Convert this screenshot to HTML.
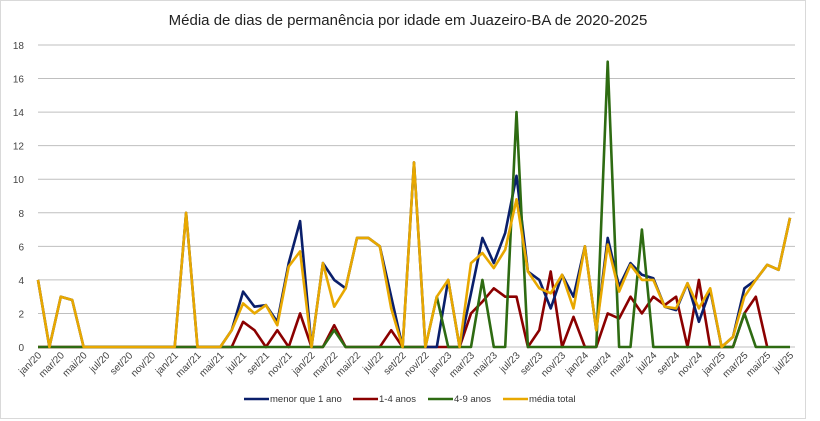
<!DOCTYPE html>
<html><head><meta charset="utf-8"><style>
body{margin:0;background:#fff;}
svg{display:block;font-family:"Liberation Sans",sans-serif;}
</style></head><body>
<svg id="c" width="820" height="421" xmlns="http://www.w3.org/2000/svg"></svg>
<script>
const s=document.getElementById('c');
const X=i=>38+i*11.394, Y=v=>347-v*16.78;
let h='<rect x="0.5" y="0.5" width="805" height="418" fill="#fff" stroke="#d9d9d9"/>';
h+='<text x="408" y="25" text-anchor="middle" font-size="15" fill="#222">Média de dias de permanência por idade em Juazeiro-BA de 2020-2025</text>';
for(let v=0;v<=18;v+=2){h+=`<line x1="38" x2="795" y1="${Y(v)}" y2="${Y(v)}" stroke="#bfbfbf" stroke-width="1"/>`;
h+=`<text x="24" y="${Y(v)+4}" text-anchor="end" font-size="10" fill="#444">${v}</text>`;}
const m=['jan','mar','mai','jul','set','nov'];
for(let i=0;i<=66;i+=2){const yr=20+Math.floor(i/12);const lab=m[(i%12)/2]+'/'+yr;
h+=`<text transform="translate(${X(i)+4},356) rotate(-45)" text-anchor="end" font-size="10" fill="#444">${lab}</text>`;}
const z=n=>Array(n).fill(0);
const yel=[4,0,3,2.8,0,0,0,0,0,0,0,0,0,8,0,0,0,1,2.6,2,2.5,1.3,4.8,5.7,0,5,2.4,3.5,6.5,6.5,6,2.3,0,11,0,3,4,0,5,5.6,4.7,5.8,8.8,4.5,3.5,3.2,4.3,2.3,6,1,6.1,3.3,4.9,4,4,2.4,2.3,3.8,2.3,3.5,0,0.6,3,4,4.9,4.6,7.7];
const blu=[4,0,3,2.8,0,0,0,0,0,0,0,0,0,8,0,0,0,1,3.3,2.4,2.5,1.5,5,7.5,0,5,4,3.5,6.5,6.5,6,3,0,11,0,0,4,0,3.2,6.5,5,6.8,10.2,4.5,4,2.3,4.3,3,6,1,6.5,3.6,5,4.3,4.1,2.4,2.2,3.8,1.5,3.4,0,0.6,3.5,4,4.9,4.6,7.7];
const red=[...z(18),1.5,1,0,1,0,2,0,0,1.3,0,0,0,0,1,0,0,0,0,0,0,2,2.7,3.5,3,3,0,1,4.5,0,1.8,0,0,2,1.7,3,2,3,2.5,3,0,4,0,0,0,2,3,0];
const grn=[...z(26),1,...z(8),3,0,0,0,4,0,0,14,0,0,0,0,0,0,0,17,0,0,7,0,0,0,0,0,0,0,0,2,0,0,0,0];
const line=(d,c)=>`<polyline fill="none" stroke="${c}" stroke-width="2.6" stroke-linejoin="round" points="${d.map((v,i)=>X(i).toFixed(1)+','+Y(v).toFixed(1)).join(' ')}"/>`;
h+=line(red,'#8b0000')+line(blu,'#0a1f6b')+line(grn,'#2e6b12')+line(yel,'#e8a800');
const lg=[[244,'#0a1f6b','menor que 1 ano'],[353,'#8b0000','1-4 anos'],[428,'#2e6b12','4-9 anos'],[503,'#e8a800','média total']];
lg.forEach(([x,c,t])=>{h+=`<line x1="${x}" x2="${x+25}" y1="399" y2="399" stroke="${c}" stroke-width="2.6"/><text x="${x+26}" y="402" font-size="9.5" fill="#333">${t}</text>`;});
s.innerHTML=h;
</script>
</body></html>
